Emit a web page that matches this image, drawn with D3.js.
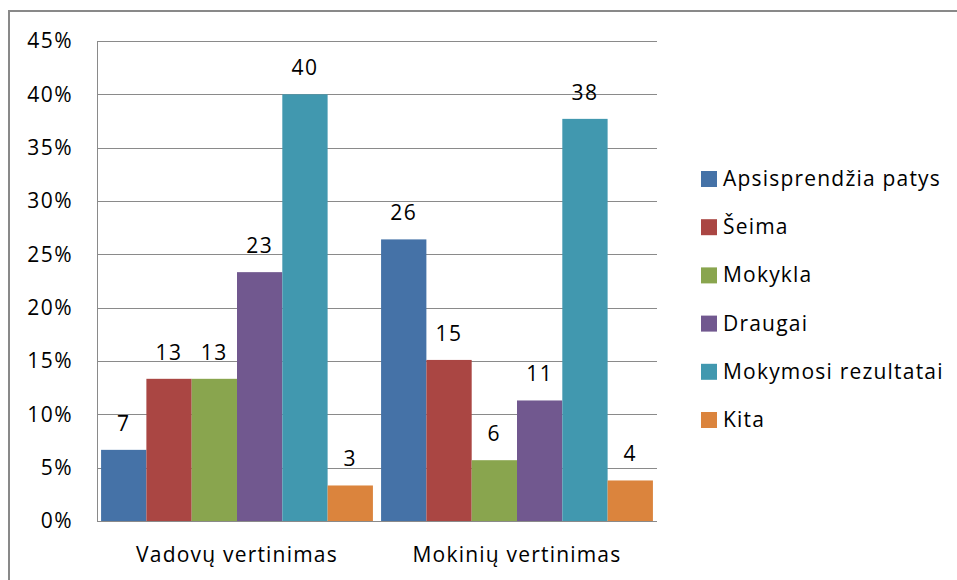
<!DOCTYPE html>
<html>
<head>
<meta charset="utf-8">
<script src="https://cdn.jsdelivr.net/npm/d3@7"></script>
<style>
  body { margin: 0; background: #fff; }
  svg text { font-family: "Open Sans", Lato, sans-serif; fill: #000; }
</style>
</head>
<body>
<div id="chart"></div>
<script>
// categories (groups on the x axis)
var groups = ['Vadovų vertinimas', 'Mokinių vertinimas'];
// series names, in legend order
var series = ['Apsisprendžia patys', 'Šeima', 'Mokykla', 'Draugai', 'Mokymosi rezultatai', 'Kita'];
var colors = ['#4572a7', '#aa4643', '#89a54e', '#71588f', '#4198af', '#db843d'];
// percentage values, one array per group
var vadovuValues = [6.67, 13.33, 13.33, 23.33, 40, 3.33];
var mokiniuValues = [26.4, 15.1, 5.7, 11.3, 37.7, 3.8];
// y axis ticks
var yTicks = [0, 5, 10, 15, 20, 25, 30, 35, 40, 45];

var W = 957, H = 580;
var plot = { left: 97, right: 657, top: 41, bottom: 521 };

var svg = d3.select('#chart')
  .append('svg')
  .attr('width', W)
  .attr('height', H);

// outer chart frame (runs off the right and bottom edge)
svg.append('rect')
  .attr('x', 9)
  .attr('y', 11)
  .attr('width', W + 20)
  .attr('height', H + 20)
  .attr('fill', 'none')
  .attr('stroke', '#898989')
  .attr('stroke-width', 2);

var y = d3.scaleLinear().domain([0, 45]).range([plot.bottom, plot.top]);
var x0 = d3.scaleBand().domain(groups).range([plot.left, plot.right]);
var x1 = d3.scaleBand().domain(series).range([0, x0.bandwidth()]).paddingOuter(0.09);

// gridlines
svg.append('g').selectAll('line')
  .data(yTicks.filter(function(d) { return d > 0; }))
  .enter()
  .append('line')
  .attr('x1', plot.left)
  .attr('x2', plot.right)
  .attr('y1', function(d) { return Math.round(y(d)) + 0.5; })
  .attr('y2', function(d) { return Math.round(y(d)) + 0.5; })
  .attr('stroke', '#8a8a8a')
  .attr('stroke-width', 1);

// y axis
var yAxis = svg.append('g')
  .attr('transform', 'translate(' + plot.left + ',0)')
  .call(d3.axisLeft(y).tickValues(yTicks).tickSize(0).tickPadding(24)
    .tickFormat(function(d) { return d + '%'; }));
yAxis.select('.domain').attr('stroke', '#8a8a8a');
yAxis.selectAll('text')
  .style('font-family', '"Open Sans", sans-serif')
  .style('letter-spacing', '1.5px')
  .attr('font-size', 21)
  .attr('fill', '#000');

// bars
var data = [vadovuValues, mokiniuValues];
var barGroups = svg.append('g').selectAll('g')
  .data(groups)
  .enter()
  .append('g')
  .attr('transform', function(d) { return 'translate(' + x0(d) + ',0)'; });

barGroups.selectAll('rect')
  .data(function(d, gi) { return data[gi].map(function(v, i) { return { s: series[i], v: v, c: colors[i] }; }); })
  .enter()
  .append('rect')
  .attr('x', function(d) { return x1(d.s); })
  .attr('y', function(d) { return y(d.v); })
  .attr('width', x1.bandwidth())
  .attr('height', function(d) { return y(0) - y(d.v); })
  .attr('fill', function(d) { return d.c; });

// value labels
barGroups.selectAll('text')
  .data(function(d, gi) { return data[gi].map(function(v, i) { return { s: series[i], v: v }; }); })
  .enter()
  .append('text')
  .attr('x', function(d) { return x1(d.s) + x1.bandwidth() / 2; })
  .attr('y', function(d) { return y(d.v) - 19; })
  .attr('text-anchor', 'middle')
  .attr('font-size', 21)
  .style('letter-spacing', '1.5px')
  .text(function(d) { return Math.round(d.v); });

// x axis line
svg.append('line')
  .attr('x1', plot.left)
  .attr('x2', plot.right)
  .attr('y1', plot.bottom + 0.5)
  .attr('y2', plot.bottom + 0.5)
  .attr('stroke', '#8a8a8a');

// category labels
svg.append('g').selectAll('text')
  .data(groups)
  .enter()
  .append('text')
  .attr('x', function(d) { return x0(d) + x0.bandwidth() / 2; })
  .attr('y', 562)
  .attr('text-anchor', 'middle')
  .attr('font-size', 21)
  .style('letter-spacing', '1.2px')
  .text(function(d) { return d; });

// legend
var legend = svg.append('g').selectAll('g')
  .data(series)
  .enter()
  .append('g')
  .attr('transform', function(d, i) { return 'translate(701,' + (179 + i * 48.2) + ')'; });

legend.append('rect')
  .attr('x', 0)
  .attr('y', -8)
  .attr('width', 16)
  .attr('height', 16)
  .attr('fill', function(d, i) { return colors[i]; });

legend.append('text')
  .attr('x', 22)
  .attr('y', 7)
  .attr('font-size', 21)
  .style('letter-spacing', '1.2px')
  .text(function(d) { return d; });
</script>
</body>
</html>
